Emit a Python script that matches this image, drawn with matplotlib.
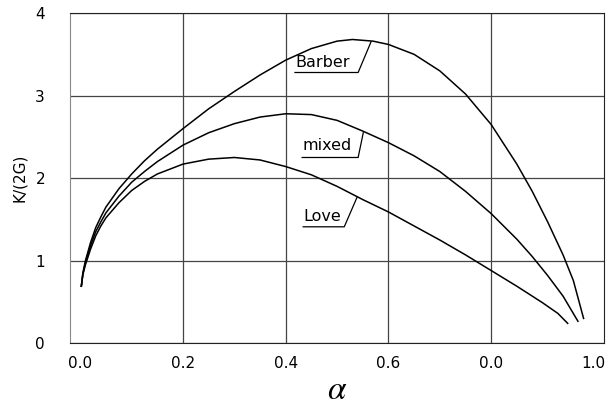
import numpy as np
import matplotlib.pyplot as plt

plt.rcParams['mathtext.fontset'] = 'stix'

# values
alpha_barber = [0.002, 0.005, 0.01, 0.02, 0.03, 0.04, 0.05, 0.075, 0.1, 0.125, 0.15, 0.2, 0.25, 0.3,
                0.35, 0.4, 0.45, 0.5, 0.53, 0.57, 0.6, 0.65, 0.7, 0.75, 0.8, 0.85, 0.88, 0.91,
                0.94, 0.96, 0.98]
k_barber = [0.69, 0.85, 1.0, 1.22, 1.4, 1.53, 1.65, 1.87, 2.05, 2.21, 2.35, 2.6, 2.84, 3.05,
            3.25, 3.43, 3.57, 3.66, 3.68, 3.66, 3.62, 3.5, 3.3, 3.02, 2.65, 2.17, 1.84, 1.47,
            1.07, 0.76, 0.30]

alpha_mixed = [0.002, 0.005, 0.01, 0.02, 0.03, 0.04, 0.05, 0.075, 0.1, 0.125, 0.15, 0.2, 0.25, 0.3,
               0.35, 0.4, 0.45, 0.5, 0.55, 0.6, 0.65, 0.7, 0.75, 0.8, 0.85, 0.88, 0.91, 0.94, 0.969]
k_mixed = [0.69, 0.84, 0.98, 1.18, 1.35, 1.47, 1.58, 1.78, 1.95, 2.08, 2.2, 2.4, 2.55, 2.66,
           2.74, 2.78, 2.77, 2.7, 2.57, 2.43, 2.27, 2.08, 1.84, 1.57, 1.26, 1.05, 0.82, 0.57, 0.265]

alpha_love = [0.002, 0.005, 0.01, 0.02, 0.03, 0.04, 0.05, 0.075, 0.1, 0.125, 0.15, 0.2, 0.25, 0.3,
              0.35, 0.4, 0.45, 0.5, 0.55, 0.6, 0.65, 0.7, 0.75, 0.8, 0.85, 0.9, 0.93, 0.949]
k_love = [0.69, 0.83, 0.95, 1.14, 1.3, 1.42, 1.52, 1.7, 1.85, 1.96, 2.05, 2.17, 2.23, 2.25,
          2.22, 2.14, 2.04, 1.9, 1.74, 1.59, 1.42, 1.25, 1.07, 0.88, 0.69, 0.49, 0.36, 0.24]

xticks = [0.0, 0.2, 0.4, 0.6, 0.8, 1.0]
xticklabels = ['0.0', '0.2', '0.4', '0.6', '0.0', '1.0']
yticks = [0, 1, 2, 3, 4]

fig = plt.figure(figsize=(6.09, 4.09), dpi=100)
ax = fig.add_axes([0.115, 0.161, 0.877, 0.807])

for a, k in [(alpha_barber, k_barber), (alpha_mixed, k_mixed), (alpha_love, k_love)]:
    ax.plot(a, k, color='black', lw=1.1, zorder=3)

ax.set_xlim(-0.02, 1.02)
ax.set_ylim(0, 4)
ax.set_xticks(xticks)
ax.set_xticklabels(xticklabels)
ax.set_yticks(yticks)
ax.tick_params(length=0, labelsize=11, pad=9)
ax.tick_params(axis='y', pad=18)
ax.grid(True, color='#444444', lw=0.9)
gl = ax.xaxis.get_gridlines()
gl[0].set_visible(False)
gl[-1].set_visible(False)
ax.set_axisbelow(True)
for s in ['top', 'right', 'bottom']:
    ax.spines[s].set_color('#222222')
ax.spines['left'].set_color('#888888')

ax.set_ylabel('K/(2G)', fontsize=11, labelpad=6)
ax.set_xlabel(r'$\alpha$', fontsize=24, labelpad=2)

# curve labels with underline + leader
labels = [('Barber', 0.418, 3.40, 3.28, 0.541, 0.566, 3.65),
          ('mixed', 0.432, 2.39, 2.25, 0.541, 0.551, 2.55),
          ('Love', 0.434, 1.53, 1.41, 0.514, 0.539, 1.77)]
for txt, x0, ty, uy, x1, lx, ly in labels:
    ax.text(x0, ty, txt, fontsize=11.5, va='center', ha='left', zorder=4)
    ax.plot([x0, x1, lx], [uy, uy, ly], color='black', lw=0.9, zorder=4)

fig.savefig('out.png', dpi=100)
